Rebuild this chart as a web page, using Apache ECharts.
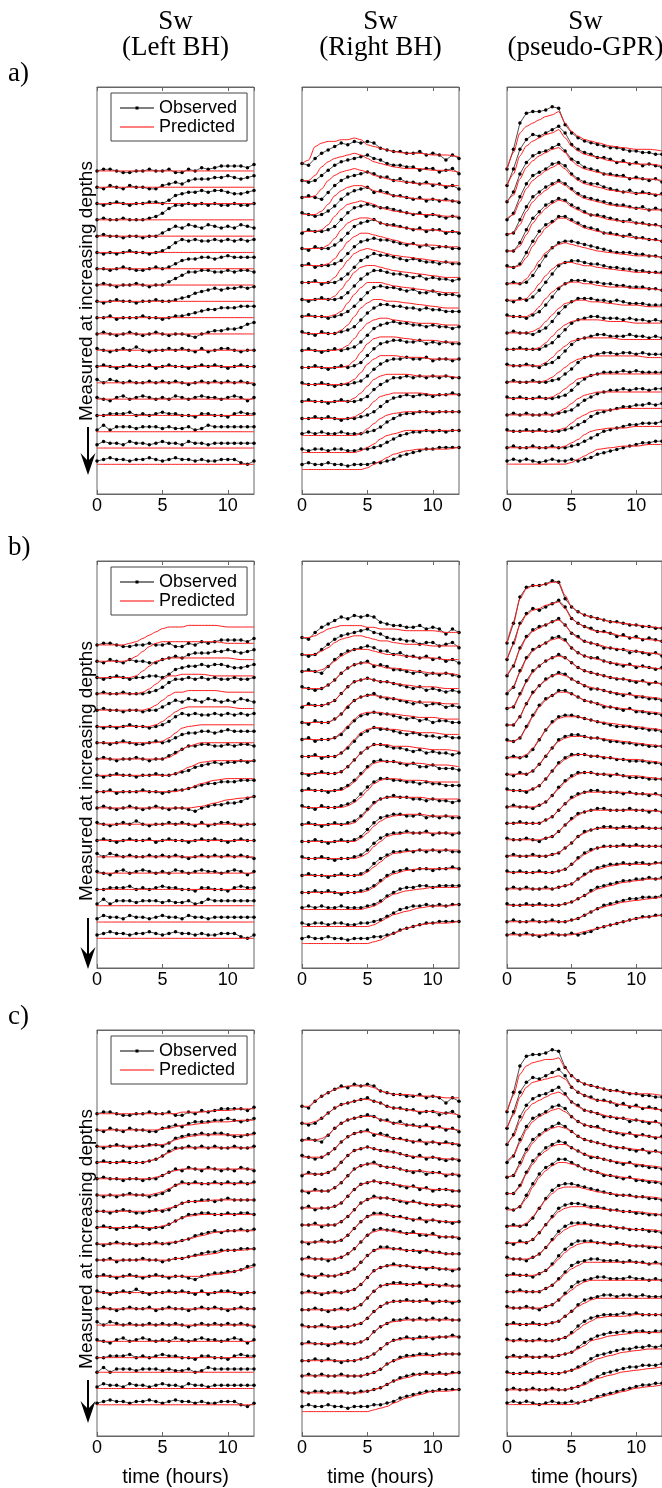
<!DOCTYPE html>
<html>
<head>
<meta charset="utf-8">
<title>Sw observed vs predicted</title>
<script src="https://cdn.jsdelivr.net/npm/echarts/dist/echarts.min.js"></script>
<style>
  html, body { margin: 0; padding: 0; background: #fff; }
  #chart { width: 662px; height: 1488px; }
</style>
</head>
<body>
<div id="chart"></div>
<script>
// time grids (hours)
const OBS_T = [0,0.5,1,1.5,2,2.5,3,3.5,4,4.5,5,5.5,6,6.5,7,7.5,8,8.5,9,9.5,10,10.5,11,11.5,12];
const PRED_T = [0,0.5,1,1.5,2,2.5,3,3.5,4,4.5,5,5.5,6,6.5,7,8,9,10,11,12];
const X_MIN = 0, X_MAX = 12, X_STEP = 5;

const COLUMN_TITLES = [['Sw', '(Left BH)'], ['Sw', '(Right BH)'], ['Sw', '(pseudo-GPR)']];
const ROW_LABELS = ['a)', 'b)', 'c)'];
const Y_LABEL = 'Measured at increasing depths';
const X_LABEL = 'time (hours)';

// values are in tenths of the trace spacing, trace k sits at offset -k
// observed data is the same in a), b), c)
const OBS_LEFT = [
  [0,1,1,0,-1,-1,0,0,1,0,0,1,-1,-1,1,0,2,1,2,3,3,3,3,2,4],
  [0,-1,1,0,-1,1,0,0,-1,-1,1,2,3,2,4,5,5,5,6,6,7,6,5,6,7],
  [0,-1,0,1,0,-1,0,0,1,1,0,2,5,6,7,7,8,7,8,8,7,6,6,7,8],
  [0,1,0,0,1,0,0,0,1,2,4,7,9,9,10,9,10,9,10,9,9,10,9,9,10],
  [0,1,0,0,-1,0,0,-1,0,0,2,4,6,5,7,6,5,7,6,5,6,5,7,6,5],
  [0,-1,0,-1,0,1,0,0,-1,0,1,3,6,8,7,8,7,7,8,7,8,7,8,7,8],
  [0,0,-1,0,1,0,-1,-1,0,1,0,1,3,5,6,6,7,7,6,7,8,7,7,7,7],
  [0,1,0,-1,0,0,1,0,-1,0,0,2,4,6,8,8,9,9,8,8,9,8,9,9,8],
  [0,-1,0,1,0,0,-1,0,0,1,0,0,1,2,3,5,6,7,8,7,8,8,9,8,9],
  [0,0,1,-1,0,0,0,1,0,0,-1,0,1,1,2,3,4,5,5,6,6,6,7,7,7],
  [0,1,0,-1,0,1,0,-1,0,1,0,-1,0,0,-1,-2,0,1,2,2,3,3,4,6,7],
  [1,0,-1,0,1,0,2,0,-1,0,0,1,0,1,0,-1,1,-1,0,1,1,0,-1,0,0],
  [0,1,0,-1,0,1,0,0,1,-1,0,1,0,0,-1,0,1,0,1,0,-1,0,1,0,0],
  [2,0,2,1,0,1,0,0,1,0,1,0,1,0,-1,0,1,0,1,0,1,0,1,0,-1],
  [1,0,-1,1,2,0,1,2,1,0,1,0,2,1,0,1,2,1,1,0,1,2,1,-1,1],
  [0,0,1,1,1,2,0,1,0,1,2,1,1,0,0,-1,1,1,0,0,-1,1,2,1,1],
  [1,4,1,3,3,3,2,3,3,3,2,3,2,2,3,1,2,4,3,3,3,3,3,3,3],
  [2,4,3,3,2,4,3,3,2,3,4,3,3,2,4,3,3,2,3,3,3,3,3,3,3],
  [2,3,4,3,3,2,3,3,4,3,2,3,4,3,3,2,3,2,2,3,3,3,1,0,2]
];
const OBS_RIGHT = [
  [0,-1,3,6,8,10,12,11,13,12,13,12,9,8,7,7,6,6,7,5,6,5,2,5,3],
  [0,-1,0,3,6,9,11,12,13,14,15,13,12,10,9,9,8,8,6,7,7,5,6,7,4],
  [0,1,0,-1,3,7,10,12,13,14,15,14,12,12,10,11,9,9,8,9,7,8,6,7,5],
  [1,0,-1,0,2,5,9,12,14,15,16,13,14,13,11,11,10,9,10,8,9,8,9,8,7],
  [-1,1,0,0,1,3,7,11,14,15,16,15,14,14,13,12,11,10,11,9,10,9,8,9,8],
  [0,-1,1,0,0,2,5,9,13,15,16,17,15,14,14,13,12,11,12,10,11,11,9,10,9],
  [0,1,-1,0,0,1,3,7,11,14,15,16,15,15,14,13,12,13,11,12,10,11,11,10,10],
  [0,0,1,-1,0,0,2,5,9,13,15,17,16,16,15,14,13,14,13,12,12,11,12,11,11],
  [0,-1,0,1,0,0,1,4,8,12,15,17,17,16,15,15,14,13,14,12,13,12,12,11,12],
  [0,1,0,0,-1,0,1,3,6,10,14,17,18,17,17,16,15,16,14,14,15,13,13,13,12],
  [1,0,-1,1,0,0,1,2,4,8,12,15,17,17,16,16,15,15,14,15,14,14,13,13,13],
  [0,1,0,-1,0,1,0,1,2,5,9,13,15,16,17,16,16,15,15,14,15,14,14,13,14],
  [0,0,1,0,-1,0,1,0,1,3,7,11,14,15,16,16,15,15,16,14,15,14,15,14,14],
  [1,0,0,1,0,-1,0,0,1,2,5,9,12,14,15,15,16,15,15,16,14,15,15,14,15],
  [0,1,0,0,-1,0,1,0,0,1,3,7,10,12,14,14,15,14,15,14,15,14,15,14,14],
  [0,0,1,0,1,0,-1,0,0,1,2,4,7,10,12,13,14,13,14,14,13,14,14,15,14],
  [1,2,1,2,1,1,2,1,1,1,2,3,5,8,10,12,13,13,14,14,13,14,14,14,14],
  [2,1,2,2,1,2,2,1,1,2,2,3,4,6,8,10,11,12,12,13,12,13,12,13,13],
  [3,4,3,3,4,3,3,2,3,3,3,4,4,5,6,8,9,10,11,12,12,13,13,13,13]
];
const OBS_GPR = [
  [0,12,28,34,35,35,36,38,37,27,22,19,17,16,15,14,13,13,12,11,11,10,10,9,9],
  [0,10,22,28,31,30,32,34,36,32,25,22,20,19,17,17,16,14,15,13,14,12,13,12,11],
  [0,6,17,24,28,30,31,33,35,31,26,24,21,20,19,17,17,16,16,14,15,14,13,14,12],
  [-1,3,13,21,26,28,30,33,34,32,27,24,22,21,21,19,18,17,16,17,15,16,15,14,15],
  [0,1,9,17,23,26,29,31,33,31,28,25,23,22,21,20,19,18,18,17,16,17,15,16,15],
  [0,0,5,13,20,24,28,30,32,31,28,26,24,22,22,21,20,19,18,19,17,17,16,16,15],
  [1,0,2,9,16,22,26,28,31,31,29,27,25,24,23,21,21,20,19,20,18,18,17,17,16],
  [0,1,0,1,5,11,17,22,25,26,26,25,24,23,22,21,20,19,19,19,18,18,17,17,16],
  [0,-1,1,0,2,6,11,16,21,23,24,24,23,22,22,21,20,20,19,19,18,18,17,17,17],
  [1,0,0,-1,1,3,7,12,17,20,22,22,22,21,21,20,20,19,19,18,18,18,17,17,16],
  [0,1,0,0,-1,1,3,7,12,16,19,21,21,21,20,20,19,20,19,18,18,18,17,17,17],
  [0,0,1,0,0,0,2,4,8,12,16,18,19,20,20,19,19,19,18,19,18,18,17,18,17],
  [1,0,0,1,0,-1,1,2,5,9,13,16,17,18,19,19,18,18,18,19,18,18,17,18,17],
  [0,1,0,0,1,0,0,1,2,5,8,12,15,16,17,18,18,17,18,18,17,18,17,17,17],
  [1,0,1,0,0,1,0,0,1,2,5,9,12,14,15,16,16,16,17,16,17,16,16,16,16],
  [0,1,0,1,0,0,1,0,1,2,3,6,9,11,13,14,15,15,16,15,16,16,15,16,16],
  [1,0,0,1,0,1,0,0,0,1,2,4,6,9,11,12,13,14,15,15,16,16,17,16,17],
  [0,1,0,0,1,0,0,1,0,0,1,2,4,6,8,10,11,12,13,14,14,15,15,15,16],
  [2,3,2,3,2,1,2,3,2,2,3,2,3,4,6,7,8,9,10,11,12,13,13,14,14]
];

// predicted, row a)
const PRED_A_LEFT = [
  [0,0,0,0,0,0,0,0,0,0,0,0,0,0,0,0,0,0,0,0],
  [0,0,0,0,0,0,0,0,0,0,0,0,0,0,0,0,0,0,0,0],
  [0,0,0,0,0,0,0,0,0,0,0,0,0,0,0,0,0,0,0,0],
  [0,0,0,0,0,0,0,0,0,0,0,0,0,0,0,0,0,0,0,0],
  [0,0,0,0,0,0,0,0,0,0,0,0,0,0,0,0,0,0,0,0],
  [0,0,0,0,0,0,0,0,0,0,0,0,0,0,0,0,0,0,0,0],
  [0,0,0,0,0,0,0,0,0,0,0,0,0,0,0,0,0,0,0,0],
  [0,0,0,0,0,0,0,0,0,0,0,0,0,0,0,0,0,0,0,0],
  [0,0,0,0,0,0,0,0,0,0,0,0,0,0,0,0,0,0,0,0],
  [0,0,0,0,0,0,0,0,0,0,0,0,0,0,0,0,0,0,0,0],
  [0,0,0,0,0,0,0,0,0,0,0,0,0,0,0,0,0,0,0,0],
  [0,0,0,0,0,0,0,0,0,0,0,0,0,0,0,0,0,0,0,0],
  [0,0,0,0,0,0,0,0,0,0,0,0,0,0,0,0,0,0,0,0],
  [0,0,0,0,0,0,0,0,0,0,0,0,0,0,0,0,0,0,0,0],
  [0,0,0,0,0,0,0,0,0,0,0,0,0,0,0,0,0,0,0,0],
  [0,0,0,0,0,0,0,0,0,0,0,0,0,0,0,0,0,0,0,0],
  [0,0,0,0,0,0,0,0,0,0,0,0,0,0,0,0,0,0,0,0],
  [0,0,0,0,0,0,0,0,0,0,0,0,0,0,0,0,0,0,0,0],
  [0,0,0,0,0,0,0,0,0,0,0,0,0,0,0,0,0,0,0,0]
];
const PRED_A_RIGHT = [
  [0,2,10,12,13,13,14,14,15,14,11,10,9,8,7,6,6,5,5,4],
  [0,0,3,8,11,13,14,15,16,15,13,11,10,9,8,7,7,6,6,5],
  [0,0,1,5,10,13,15,16,17,16,15,13,12,11,10,9,8,8,7,7],
  [0,0,0,2,6,11,14,16,17,17,16,14,13,12,11,10,9,9,8,8],
  [0,0,0,1,4,9,13,16,17,18,17,16,14,13,12,11,10,10,9,9],
  [0,0,0,0,2,6,11,15,17,18,18,17,15,14,13,12,11,11,10,10],
  [0,0,0,0,1,4,9,14,17,19,19,18,17,16,15,13,12,12,11,11],
  [0,0,0,0,0,3,8,13,17,19,20,19,18,17,16,15,14,13,12,12],
  [0,0,0,0,0,2,6,11,16,19,20,20,19,18,17,16,15,14,13,13],
  [0,0,0,0,0,1,3,8,13,17,20,20,20,19,18,17,16,15,14,14],
  [0,0,0,0,0,0,2,5,10,15,18,20,20,19,19,18,17,16,15,15],
  [0,0,0,0,0,0,1,3,7,12,16,18,19,19,18,17,16,16,15,15],
  [0,0,0,0,0,0,0,1,4,9,14,17,18,18,18,17,16,16,15,15],
  [0,0,0,0,0,0,0,1,3,7,12,15,17,17,17,16,16,15,15,15],
  [0,0,0,0,0,0,0,0,2,5,9,13,15,16,16,16,15,15,15,14],
  [0,0,0,0,0,0,0,0,1,3,6,10,13,14,15,15,15,14,14,14],
  [0,0,0,0,0,0,0,0,0,1,4,7,10,12,13,14,14,14,14,14],
  [0,0,0,0,0,0,0,0,0,1,3,5,8,10,11,13,13,13,13,13],
  [0,0,0,0,0,0,0,0,0,0,1,3,5,7,9,11,12,12,12,13]
];
const PRED_A_GPR = [
  [0,10,22,26,28,30,32,33,35,28,23,20,18,17,16,14,13,12,12,11],
  [0,7,18,24,27,29,31,32,34,29,24,21,19,18,17,15,14,13,13,12],
  [0,4,14,21,25,28,30,32,33,30,25,22,20,19,18,16,15,14,14,13],
  [0,2,10,18,23,26,29,31,33,30,26,23,21,20,19,17,16,15,15,14],
  [0,1,6,14,20,24,27,30,32,30,27,24,22,21,20,18,17,16,15,15],
  [0,0,3,10,17,22,26,29,31,30,27,25,23,22,21,19,18,17,16,15],
  [0,0,1,6,13,19,24,27,30,30,28,26,24,23,22,20,19,18,17,16],
  [0,0,0,3,8,14,19,22,24,25,24,23,22,21,20,19,18,17,17,16],
  [0,0,0,1,5,10,15,19,22,23,23,22,21,21,20,19,18,17,17,16],
  [0,0,0,0,2,6,11,15,18,20,21,21,20,20,19,18,18,17,17,16],
  [0,0,0,0,1,3,7,11,15,18,19,20,20,19,19,18,17,17,16,16],
  [0,0,0,0,0,1,4,8,12,15,17,18,18,18,18,17,17,16,16,16],
  [0,0,0,0,0,0,2,5,9,12,15,16,17,17,17,17,16,16,16,16],
  [0,0,0,0,0,0,1,3,6,9,12,14,15,16,16,16,16,16,15,15],
  [0,0,0,0,0,0,0,1,3,6,9,12,13,14,15,15,15,15,15,15],
  [0,0,0,0,0,0,0,0,2,4,7,10,12,13,14,14,14,14,14,14],
  [0,0,0,0,0,0,0,0,1,2,5,8,10,12,13,13,14,14,14,14],
  [0,0,0,0,0,0,0,0,0,1,3,5,8,10,11,12,12,13,13,13],
  [0,0,0,0,0,0,0,0,0,0,1,3,5,7,9,10,11,11,12,12]
];

// predicted, row b)
const PRED_B_LEFT = [
  [0,0,0,0,0,1,2,4,6,8,10,11,11,11,12,12,12,11,11,11],
  [0,0,0,0,0,1,3,6,9,11,12,12,12,12,12,12,12,11,11,11],
  [0,0,0,0,0,0,1,4,7,10,11,12,12,12,12,12,12,12,11,11],
  [0,0,0,0,0,0,0,1,3,6,9,11,11,12,12,12,11,11,11,11],
  [0,0,0,0,0,0,0,0,1,3,6,9,11,11,12,12,12,11,11,11],
  [0,0,0,0,0,0,0,0,0,1,3,6,9,11,12,12,12,12,11,11],
  [0,0,0,0,0,0,0,0,0,0,1,3,6,9,10,11,11,11,11,11],
  [0,0,0,0,0,0,0,0,0,0,0,1,3,6,8,10,10,10,10,10],
  [0,0,0,0,0,0,0,0,0,0,0,0,1,3,5,8,9,9,9,9],
  [0,0,0,0,0,0,0,0,0,0,0,0,0,1,2,5,7,8,8,8],
  [0,0,0,0,0,0,0,0,0,0,0,0,0,0,0,1,3,5,6,7],
  [0,0,0,0,0,0,0,0,0,0,0,0,0,0,0,0,0,0,0,0],
  [0,0,0,0,0,0,0,0,0,0,0,0,0,0,0,0,0,0,0,0],
  [0,0,0,0,0,0,0,0,0,0,0,0,0,0,0,0,0,0,0,0],
  [0,0,0,0,0,0,0,0,0,0,0,0,0,0,0,0,0,0,0,0],
  [0,0,0,0,0,0,0,0,0,0,0,0,0,0,0,0,0,0,0,0],
  [0,0,0,0,0,0,0,0,0,0,0,0,0,0,0,0,0,0,0,0],
  [0,0,0,0,0,0,0,0,0,0,0,0,0,0,0,0,0,0,0,0],
  [0,0,0,0,0,0,0,0,0,0,0,0,0,0,0,0,0,0,0,0]
];
const PRED_B_RIGHT = [
  [0,0,1,3,5,6,7,7,7,7,6,6,5,5,5,4,4,4,3,3],
  [0,0,0,2,4,7,9,10,11,11,10,9,8,8,7,6,6,5,5,5],
  [0,0,0,1,3,6,9,11,13,13,13,12,11,10,10,9,8,8,7,7],
  [0,0,0,0,2,5,9,12,14,15,15,14,13,12,12,11,10,9,9,8],
  [0,0,0,0,1,3,7,11,14,15,16,15,14,14,13,12,11,11,10,10],
  [0,0,0,0,0,2,5,10,13,15,16,16,15,15,14,13,12,12,11,11],
  [0,0,0,0,0,1,4,8,12,15,16,16,16,15,15,14,13,13,12,12],
  [0,0,0,0,0,0,2,6,10,14,16,17,17,16,16,15,14,14,13,13],
  [0,0,0,0,0,0,1,4,8,12,15,17,17,17,16,16,15,14,14,13],
  [0,0,0,0,0,0,0,2,5,9,13,16,17,17,17,16,16,15,15,14],
  [0,0,0,0,0,0,0,1,3,6,10,14,16,17,17,16,16,15,15,15],
  [0,0,0,0,0,0,0,0,1,4,8,12,15,16,16,16,16,15,15,15],
  [0,0,0,0,0,0,0,0,0,2,5,9,12,14,15,16,16,15,15,15],
  [0,0,0,0,0,0,0,0,0,1,3,7,10,13,14,15,15,15,15,15],
  [0,0,0,0,0,0,0,0,0,0,2,5,8,11,13,14,15,15,15,15],
  [0,0,0,0,0,0,0,0,0,0,1,3,6,9,11,13,14,14,14,14],
  [0,0,0,0,0,0,0,0,0,0,1,2,4,7,9,11,12,13,13,13],
  [0,0,0,0,0,0,0,0,0,0,0,1,3,5,7,9,11,12,12,13],
  [0,0,0,0,0,0,0,0,0,0,0,1,2,4,6,9,11,12,12,13]
];
const PRED_B_GPR = [
  [0,12,27,33,35,35,36,37,37,29,22,19,17,16,15,13,12,11,10,9],
  [0,9,21,27,30,31,33,34,35,31,25,22,20,18,17,16,14,13,12,11],
  [0,6,16,23,27,29,31,33,34,31,26,23,21,20,19,17,16,15,14,13],
  [0,3,12,20,25,28,30,32,33,31,27,24,22,21,20,18,17,16,15,14],
  [0,1,8,16,22,26,29,31,32,31,28,25,23,22,21,19,18,17,16,15],
  [0,0,5,13,19,24,27,30,31,30,28,26,24,23,22,20,19,18,17,16],
  [0,0,2,8,15,21,25,28,30,30,29,27,25,24,23,21,20,19,18,17],
  [0,0,0,2,6,11,17,21,24,25,25,25,24,23,22,21,20,19,18,17],
  [0,0,0,0,2,6,11,16,20,22,23,23,23,22,22,21,20,19,18,17],
  [0,0,0,0,1,3,7,12,16,19,21,22,22,21,21,20,19,19,18,17],
  [0,0,0,0,0,1,3,7,11,15,18,20,21,21,20,20,19,19,18,17],
  [0,0,0,0,0,0,2,4,8,12,15,17,19,19,19,19,19,18,18,17],
  [0,0,0,0,0,0,1,2,5,9,12,15,17,18,18,18,18,18,18,17],
  [0,0,0,0,0,0,0,1,2,5,8,12,14,16,17,17,17,17,17,17],
  [0,0,0,0,0,0,0,0,1,2,5,8,11,13,15,16,16,16,16,16],
  [0,0,0,0,0,0,0,0,1,2,3,6,8,11,12,14,15,15,15,16],
  [0,0,0,0,0,0,0,0,0,1,2,4,6,8,10,12,14,15,16,16],
  [0,0,0,0,0,0,0,0,0,0,1,2,4,6,8,10,12,13,14,15],
  [2,2,2,2,2,2,2,2,2,2,2,3,4,5,6,8,10,12,13,14]
];

// predicted, row c)
const PRED_C_LEFT = [
  [0,0,0,0,0,0,0,0,0,0,0,0,0,1,1,1,2,2,3,3],
  [0,0,0,0,0,0,0,0,0,0,1,1,2,3,3,4,5,5,6,6],
  [0,0,0,0,0,0,0,0,0,1,1,2,4,5,6,7,7,7,7,7],
  [0,0,0,0,0,0,0,0,1,2,4,6,8,9,9,9,9,9,9,9],
  [0,0,0,0,0,0,0,0,0,1,2,4,5,6,6,6,6,6,6,6],
  [0,0,0,0,0,0,0,0,0,1,2,4,6,7,7,7,7,7,7,7],
  [0,0,0,0,0,0,0,0,0,0,1,2,3,5,6,6,7,7,7,7],
  [0,0,0,0,0,0,0,0,0,0,1,2,4,6,7,8,8,8,8,8],
  [0,0,0,0,0,0,0,0,0,0,0,1,1,2,3,5,7,8,8,8],
  [0,0,0,0,0,0,0,0,0,0,0,0,1,1,2,3,4,6,6,7],
  [0,0,0,0,0,0,0,0,0,0,0,0,0,0,0,0,1,2,4,6],
  [0,0,0,0,0,0,0,0,0,0,0,0,0,0,0,0,0,0,0,0],
  [0,0,0,0,0,0,0,0,0,0,0,0,0,0,0,0,0,0,0,0],
  [0,0,0,0,0,0,0,0,0,0,0,0,0,0,0,0,0,0,0,0],
  [0,0,0,0,0,0,0,0,0,0,0,0,0,0,0,0,0,0,0,0],
  [0,0,0,0,0,0,0,0,0,0,0,0,0,0,0,0,0,0,0,0],
  [1,1,1,1,1,1,1,1,1,1,1,1,1,1,1,1,1,1,1,1],
  [1,1,1,1,1,1,1,1,1,1,1,1,1,1,1,1,1,1,1,1],
  [1,1,1,1,1,1,1,1,1,1,1,1,1,1,1,1,1,1,1,1]
];
const PRED_C_RIGHT = [
  [0,0,3,6,8,10,11,12,12,12,12,11,9,8,7,7,6,6,5,5],
  [0,0,1,3,6,9,11,12,13,14,14,13,12,10,9,8,7,7,6,5],
  [0,0,0,1,3,7,10,12,13,14,14,14,12,11,10,9,8,8,7,6],
  [0,0,0,0,2,5,9,12,14,15,15,14,13,12,11,10,9,9,8,8],
  [0,0,0,0,1,3,7,11,14,15,16,15,14,13,13,11,10,10,9,9],
  [0,0,0,0,0,2,5,9,13,15,16,16,15,14,14,12,12,11,10,10],
  [0,0,0,0,0,1,3,7,11,14,15,16,15,15,14,13,12,11,11,10],
  [0,0,0,0,0,0,2,5,9,13,15,16,16,16,15,14,13,12,12,11],
  [0,0,0,0,0,0,1,4,8,12,15,16,16,16,15,14,13,13,12,12],
  [0,0,0,0,0,0,1,3,6,10,14,16,17,17,16,15,15,14,13,13],
  [0,0,0,0,0,0,1,2,4,8,12,15,16,16,16,15,15,14,13,13],
  [0,0,0,0,0,0,0,1,2,5,9,13,15,16,16,16,15,15,14,14],
  [0,0,0,0,0,0,0,0,1,3,7,11,14,15,15,15,15,15,14,14],
  [0,0,0,0,0,0,0,0,1,2,5,9,12,14,15,15,15,15,15,15],
  [0,0,0,0,0,0,0,0,0,1,3,7,10,12,13,14,14,14,14,14],
  [0,0,0,0,0,0,0,0,0,1,2,4,7,10,12,13,13,14,14,14],
  [1,1,1,1,1,1,1,1,1,1,2,3,5,8,10,12,13,13,14,14],
  [1,1,1,1,1,1,1,1,1,1,2,3,4,6,8,10,12,12,12,13],
  [0,0,0,0,0,0,0,0,0,0,0,1,2,3,5,8,10,12,12,13]
];
const PRED_C_GPR = [
  [0,10,23,28,30,31,32,32,33,27,22,19,17,16,15,13,12,11,11,10],
  [0,8,19,25,28,29,30,31,32,30,25,22,20,18,17,16,14,13,12,11],
  [0,5,14,21,25,27,29,31,32,30,26,23,21,20,19,17,16,15,14,13],
  [0,3,11,19,24,27,29,31,32,30,27,24,22,21,20,18,17,16,15,14],
  [0,1,7,15,21,25,28,30,31,30,28,25,23,22,21,19,18,17,16,15],
  [0,0,4,12,18,23,26,29,30,30,28,26,24,23,22,20,19,18,17,16],
  [0,0,2,7,14,20,24,27,29,29,28,27,25,24,23,21,20,19,18,17],
  [0,0,0,2,6,11,16,20,23,24,24,24,23,22,21,20,19,18,18,17],
  [0,0,0,0,2,6,11,15,19,21,22,22,22,21,21,20,19,19,18,17],
  [0,0,0,0,1,3,7,11,15,18,20,21,21,21,20,20,19,18,18,17],
  [0,0,0,0,0,1,3,6,10,14,17,19,20,20,20,19,19,18,18,17],
  [0,0,0,0,0,0,2,4,7,11,14,16,18,18,18,18,18,18,17,17],
  [0,0,0,0,0,0,1,2,5,8,11,14,16,17,17,17,17,17,17,17],
  [0,0,0,0,0,0,0,1,2,5,8,11,13,15,16,16,16,16,16,16],
  [0,0,0,0,0,0,0,0,1,2,4,7,10,12,14,15,15,16,16,16],
  [0,0,0,0,0,0,0,0,1,2,3,5,7,10,11,13,14,15,15,15],
  [0,0,0,0,0,0,0,0,0,1,2,3,5,7,9,11,13,14,15,15],
  [0,0,0,0,0,0,0,0,0,0,1,2,3,5,7,9,11,12,13,14],
  [1,1,1,1,1,1,1,1,1,1,1,2,3,4,5,7,9,11,12,13]
];

const SANS = "'Liberation Sans', Arial, Helvetica, sans-serif";
const SERIF = "'Liberation Serif', 'Times New Roman', serif";
const AXIS_GREY = '#666';

// layout (px)
const ROW_TOP = [87, 561, 1030];
const COL_LEFT = [97, 302, 507];
const PLOT_W = 157;
const PLOT_H = 407;
// y extent per column in trace units
const COL_Y = [[-19.82, 5.15], [-19.44, 4.5], [-19.82, 5.0]];

const OBS_BY_COL = [OBS_LEFT, OBS_RIGHT, OBS_GPR];
const PRED_BY_PANEL = [
  [PRED_A_LEFT, PRED_A_RIGHT, PRED_A_GPR],
  [PRED_B_LEFT, PRED_B_RIGHT, PRED_B_GPR],
  [PRED_C_LEFT, PRED_C_RIGHT, PRED_C_GPR]
];

function traceData(times, vals, k) {
  return times.map((t, i) => [t, vals[i] / 10 - k]);
}

const grid = [], xAxis = [], yAxis = [], series = [];

for (let r = 0; r < 3; r++) {
  for (let c = 0; c < 3; c++) {
    const g = r * 3 + c;
    grid.push({
      left: COL_LEFT[c], top: ROW_TOP[r], width: PLOT_W, height: PLOT_H,
      show: true, borderColor: AXIS_GREY, borderWidth: 1, backgroundColor: '#fff'
    });
    const common = {
      type: 'value', gridIndex: g, min: X_MIN, max: X_MAX, interval: X_STEP,
      splitLine: { show: false },
      axisLine: { show: true, onZero: false, lineStyle: { color: AXIS_GREY, width: 1 } },
      axisTick: { show: true, inside: true, length: 4, lineStyle: { color: AXIS_GREY } }
    };
    xAxis.push(Object.assign({}, common, {
      position: 'bottom',
      axisLabel: { show: true, fontSize: 18, fontFamily: SANS, color: '#000', margin: 3, showMaxLabel: false },
      name: r === 2 ? X_LABEL : '',
      nameLocation: 'middle', nameGap: 31,
      nameTextStyle: { fontSize: 20, fontFamily: SANS, color: '#000' }
    }));
    xAxis.push(Object.assign({}, common, {
      position: 'top',
      axisLabel: { show: false }
    }));
    yAxis.push({
      type: 'value', gridIndex: g, min: COL_Y[c][0], max: COL_Y[c][1],
      axisLine: { show: false }, axisTick: { show: false },
      axisLabel: { show: false }, splitLine: { show: false }
    });

    const obs = OBS_BY_COL[c];
    const pred = PRED_BY_PANEL[r][c];
    for (let k = 0; k < obs.length; k++) {
      series.push({
        name: 'Observed', type: 'line', xAxisIndex: 2 * g, yAxisIndex: g,
        data: traceData(OBS_T, obs[k], k),
        symbol: 'circle', symbolSize: 3.5, showSymbol: true, showAllSymbol: true,
        itemStyle: { color: '#000' },
        lineStyle: { color: '#222', width: 0.8 },
        z: 2, silent: true
      });
      series.push({
        name: 'Predicted', type: 'line', xAxisIndex: 2 * g, yAxisIndex: g,
        data: traceData(PRED_T, pred[k], k),
        showSymbol: false, smooth: 0.25, smoothMonotone: 'x',
        itemStyle: { color: '#ff0000' },
        lineStyle: { color: '#ff1a1a', width: 1 },
        z: 3, silent: true
      });
    }
  }
}

const OBS_ICON = 'path://M0,0h0.05v0.05h-0.05zM0,6.5h34v1h-34zM15.5,5.5h3v3h-3zM34,14h-0.05v-0.05h0.05z';
const PRED_ICON = 'path://M0,0h0.05v0.05h-0.05zM0,6.4h34v1.2h-34zM34,14h-0.05v-0.05h0.05z';

const legend = ROW_TOP.map(top => ({
  left: 111, top: top + 6, orient: 'vertical',
  data: [
    { name: 'Observed', icon: OBS_ICON, itemStyle: { color: '#000' } },
    { name: 'Predicted', icon: PRED_ICON, itemStyle: { color: '#ff0000' } }
  ],
  itemWidth: 34, itemHeight: 14, itemGap: 1,
  padding: [6, 10, 5, 9],
  borderColor: '#444', borderWidth: 1, backgroundColor: '#fff',
  textStyle: { fontSize: 18, lineHeight: 18, fontFamily: SANS, color: '#000' },
  selectedMode: false
}));

const graphic = [];
const COL_CENTER = COL_LEFT.map(x => x + PLOT_W / 2);
COLUMN_TITLES.forEach((lines, c) => {
  graphic.push({ type: 'text', x: COL_CENTER[c], y: 22,
    style: { text: lines[0], fontSize: 27, fontFamily: SERIF, fill: '#000', align: 'center', verticalAlign: 'middle' } });
  graphic.push({ type: 'text', x: COL_CENTER[c], y: 48,
    style: { text: lines[1], fontSize: 27, fontFamily: SERIF, fill: '#000', align: 'center', verticalAlign: 'middle' } });
});
ROW_LABELS.forEach((lab, r) => {
  graphic.push({ type: 'text', x: 8, y: ROW_TOP[r] - 13,
    style: { text: lab, fontSize: 27, fontFamily: SERIF, fill: '#000', align: 'left', verticalAlign: 'middle' } });
});
const YLABEL_CY = [291, 771, 1239];
const ARROW = [[427, 475], [918, 969], [1380, 1423]];
for (let r = 0; r < 3; r++) {
  graphic.push({ type: 'text', x: 87, y: YLABEL_CY[r], rotation: Math.PI / 2,
    style: { text: Y_LABEL, fontSize: 19, fontFamily: SANS, fill: '#000', align: 'center', verticalAlign: 'middle' } });
  const [y0, tip] = ARROW[r];
  graphic.push({ type: 'line', shape: { x1: 88, y1: y0, x2: 88, y2: tip - 12 },
    style: { stroke: '#000', lineWidth: 2 } });
  graphic.push({ type: 'polygon',
    shape: { points: [[80.5, tip - 22], [88, tip - 14], [95.5, tip - 22], [88, tip]] },
    style: { fill: '#000' } });
}

const chart = echarts.init(document.getElementById('chart'), null, { renderer: 'canvas' });
chart.setOption({
  animation: false,
  backgroundColor: '#fff',
  grid, xAxis, yAxis, series, legend, graphic
});
</script>
</body>
</html>
